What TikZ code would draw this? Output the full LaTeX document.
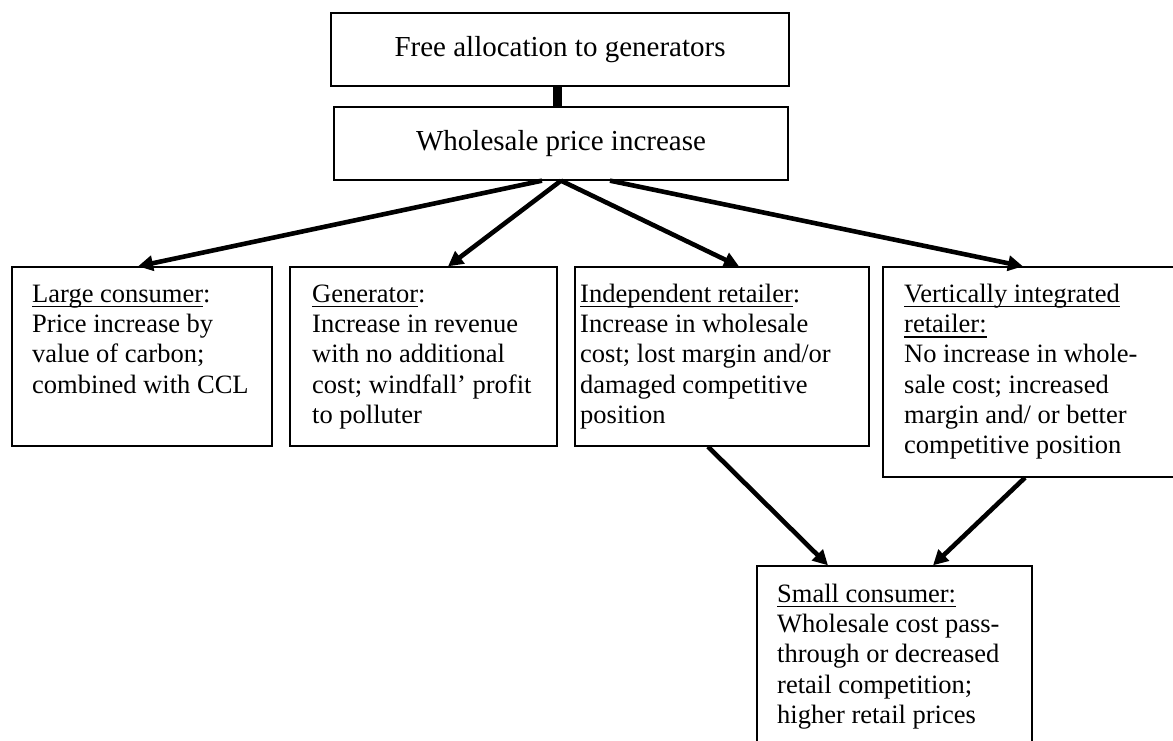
\documentclass[tikz,border=0pt]{standalone}
\usepackage{fontspec}
\setmainfont{Liberation Serif}
\usetikzlibrary{arrows.meta}
\newcommand{\myul}[1]{\setbox0\hbox{#1}\rlap{\rule[-5pt]{\wd0}{1.4pt}}\box0}
\begin{document}
\begin{tikzpicture}[x=1pt,y=-1pt,
  box/.style={draw, line width=1.3pt, inner sep=0pt, rectangle},
  body/.style={anchor=north west, inner sep=0pt, align=left, font=\fontsize{26.5}{30.3}\selectfont},
  headf/.style={font=\fontsize{29}{34}\selectfont},
  arr/.style={line width=4.6pt, -{Triangle[length=15pt,width=15pt]}},
  bar/.style={line width=8.3pt}]
\useasboundingbox (0,0) rectangle (1173,740);
\begin{scope}
\clip (0,0) rectangle (1173,740);
% boxes
\node[box, headf, minimum width=458, minimum height=73] (top) at (560,49.5) {Free allocation to generators};
\node[box, headf, minimum width=454, minimum height=73] (wp) at (561,143.5) {Wholesale price increase};
\node[box, minimum width=260, minimum height=179] (lc) at (142,356.5) {};
\node[box, minimum width=267, minimum height=179] (gen) at (423.5,356.5) {};
\node[box, minimum width=294, minimum height=179] (ind) at (722,356.5) {};
\node[box, minimum width=291, minimum height=210] (vi) at (1028.5,372) {};
\node[box, minimum width=275, minimum height=179] (sc) at (894.5,655.5) {};
% texts
\node[body] (lct) at (32,280.8) {\strut\myul{Large consumer}:\\ Price increase by\\ value of carbon;\\ combined with CCL};
\node[body] (gent) at (312,280.8) {\strut\myul{Generator}:\\ Increase in revenue\\ with no additional\\ cost; windfall’ profit\\ to polluter};
\node[body] (indt) at (580,280.8) {\strut\myul{Independent retailer}:\\ Increase in wholesale\\ cost; lost margin and/or\\ damaged competitive\\ position};
\node[body] (vit) at (904,280.8) {\strut\myul{Vertically integrated}\\ \myul{retailer:}\\ No increase in whole-\\ sale cost; increased\\ margin and/ or better\\ competitive position};
\node[body] (sct) at (777,580.8) {\strut\myul{Small consumer:}\\ Wholesale cost pass-\\ through or decreased\\ retail competition;\\ higher retail prices};
% connectors
\draw[bar] ([xshift=-2.5pt]top.south) -- ([xshift=-3.5pt]wp.north);
\draw[arr] ([xshift=-19pt]wp.south) -- ([xshift=-4pt]lc.north);
\draw[arr] (wp.south) -- ([xshift=24.5pt]gen.north);
\draw[arr] (wp.south) -- ([xshift=17pt]ind.north);
\draw[arr] ([xshift=49pt]wp.south) -- ([xshift=-5.5pt]vi.north);
\draw[arr] ([xshift=-14pt]ind.south) -- ([xshift=-66.5pt]sc.north);
\draw[arr] ([xshift=-3.5pt]vi.south) -- ([xshift=38.5pt]sc.north);
\end{scope}
\end{tikzpicture}
\end{document}
